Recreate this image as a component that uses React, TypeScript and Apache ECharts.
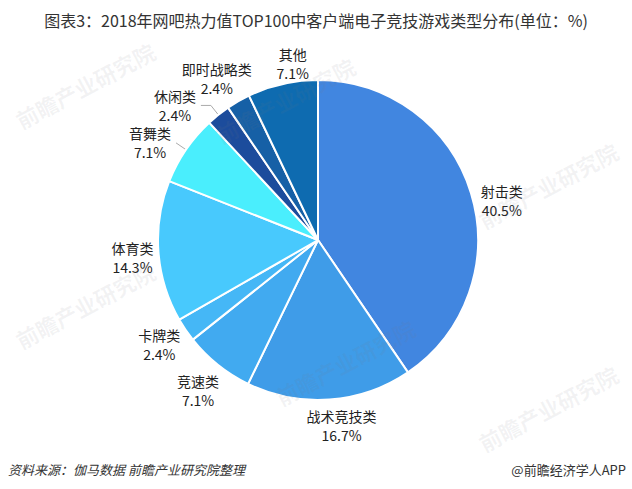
import React, { useEffect, useRef } from "react";
import * as echarts from "echarts";

const categories = ["射击类", "战术竞技类", "竞速类", "卡牌类", "体育类", "音舞类", "休闲类", "即时战略类", "其他"];
const shares = [40.5, 16.7, 7.1, 2.4, 14.3, 7.1, 2.4, 2.4, 7.1];
const colors = ["#4186E0", "#3F9CE8", "#41AAF0", "#45B7F6", "#48C9FD", "#4AEEFD", "#1C4C9C", "#1660A6", "#0E6BB0"];
// slices whose labels use a leader line: [radial length, horizontal length]
const leaderLines: Record<number, [number, number]> = { 5: [12, 0], 6: [12, 10] };
// small label nudges [dx, dy] in pixels (layout only)
const labelNudges: [number, number][] = [
  [5, 15],
  [10, -1],
  [-3, 5],
  [-4, -1],
  [1, 4],
  [0, 0],
  [0, 0],
  [-8, 1],
  [16, 6],
];

const titleText = "图表3：2018年网吧热力值TOP100中客户端电子竞技游戏类型分布(单位：%)";
const sourceText = "资料来源：伽马数据 前瞻产业研究院整理";
const brandText = "@前瞻经济学人APP";
const watermarkText = "前瞻产业研究院";

const CX = 318;
const CY = 240;
const R = 160;
const LABEL_R = 187;
const FONT = '"Noto Sans CJK SC", "Noto Sans", sans-serif';

const watermarks: [number, number][] = [
  [285, 100],
  [345, 362],
  [85, 85],
  [85, 305],
  [548, 185],
  [548, 408],
];

export default function App() {
  const ref = useRef<HTMLDivElement>(null);
  useEffect(() => {
    if (!ref.current) return;
    const chart = echarts.init(ref.current, null, { renderer: "svg" });
    const total = shares.reduce((a, b) => a + b, 0);
    const mids: number[] = [];
    let cum = 0;
    shares.forEach((v) => {
      mids.push(((cum + v / 2) / total) * Math.PI * 2);
      cum += v;
    });

    const data = categories.map((name, i) => {
      const ll = leaderLines[i];
      return {
        name,
        value: shares[i],
        itemStyle: { color: colors[i] },
        labelLine: ll
          ? { show: true, length: ll[0], length2: ll[1], lineStyle: { color: "#aaaaaa", width: 1 } }
          : { show: false },
      };
    });

    chart.setOption({
      animation: false,
      backgroundColor: "#ffffff",
      title: {
        text: titleText,
        left: "center",
        top: 7,
        textStyle: { fontSize: 16, fontWeight: "normal", color: "#333333", fontFamily: FONT },
      },
      graphic: [
        ...watermarks.map(([x, y]) => ({
          type: "text",
          x,
          y,
          rotation: (28 * Math.PI) / 180,
          z: 100,
          silent: true,
          style: {
            text: watermarkText,
            fill: "rgba(120,120,130,0.09)",
            font: `bold 22px ${FONT}`,
            align: "center",
            verticalAlign: "middle",
          },
        })),
        {
          type: "text",
          left: 8,
          top: 463,
          style: { text: sourceText, fill: "#333333", font: `italic 13px ${FONT}` },
        },
        {
          type: "text",
          right: 6,
          top: 463,
          style: { text: brandText, fill: "#333333", font: `13px ${FONT}` },
        },
      ],
      series: [
        {
          type: "pie",
          center: [CX, CY],
          radius: R,
          startAngle: 90,
          clockwise: true,
          avoidLabelOverlap: false,
          itemStyle: { borderColor: "#ffffff", borderWidth: 2 },
          emphasis: { disabled: true },
          label: {
            show: true,
            position: "outside",
            formatter: (p: any) => `{n|${p.name}}\n{v|${p.value}%}`,
            rich: {
              n: { align: "center", fontSize: 14, lineHeight: 19, color: "#222222", fontFamily: FONT },
              v: { align: "center", fontSize: 14, lineHeight: 19, color: "#222222", fontFamily: FONT },
            },
          },
          labelLayout: (params: any) => {
            const i = params.dataIndex;
            if (leaderLines[i]) return {};
            const a = mids[i];
            const [dx, dy] = labelNudges[i];
            return {
              x: CX + LABEL_R * Math.sin(a) + dx,
              y: CY - LABEL_R * Math.cos(a) + dy,
              align: "center",
              verticalAlign: "middle",
            };
          },
          data,
        },
      ],
    });
    return () => chart.dispose();
  }, []);
  return (
    <div
      ref={ref}
      style={{ position: "fixed", left: 0, top: 0, width: 632, height: 489, background: "#fff" }}
    />
  );
}
